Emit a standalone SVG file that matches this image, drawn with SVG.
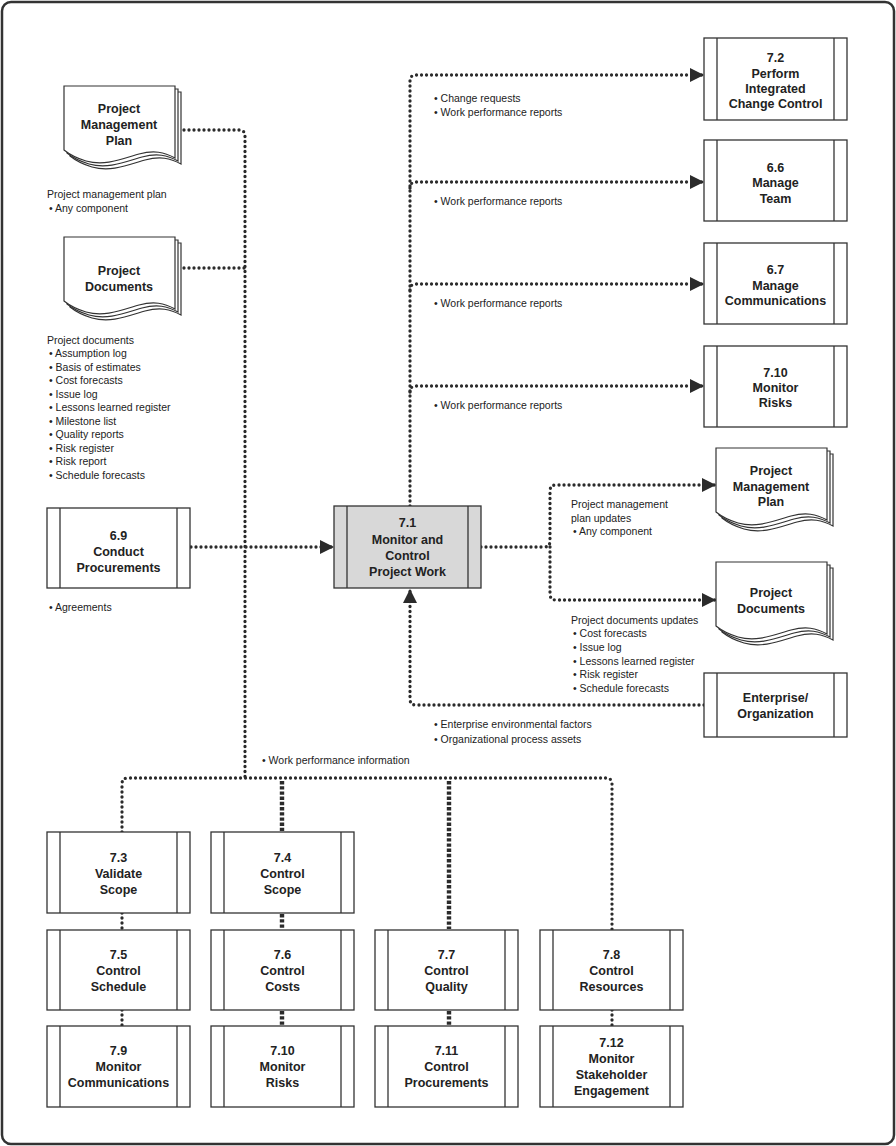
<svg xmlns="http://www.w3.org/2000/svg" xmlns:xlink="http://www.w3.org/1999/xlink" width="896" height="1146" viewBox="0 0 896 1146">
<style>
.frame{fill:#fff;stroke:#333;stroke-width:2.5}
.box{fill:#fff;stroke:#333;stroke-width:1.3}
.hub{fill:#d8d8d8;stroke:#333;stroke-width:1.3}
.bar{stroke:#333;stroke-width:1.3}
.page{fill:#fff;stroke:#333;stroke-width:1.2}
.dot{fill:none;stroke:#2b2b2b;stroke-width:3.3;stroke-linecap:round;stroke-dasharray:0 5}
.dotb{fill:none;stroke:#2b2b2b;stroke-width:4.4;stroke-linecap:butt;stroke-dasharray:3.4 1.8}
.t{font-family:"Liberation Sans",Arial,sans-serif;font-size:12.5px;font-weight:bold;fill:#222;text-anchor:middle}
.s{font-family:"Liberation Sans",Arial,sans-serif;font-size:10.5px;fill:#222}
</style>
<defs>
<marker id="ah" markerUnits="userSpaceOnUse" markerWidth="15" markerHeight="14" refX="14" refY="7" orient="auto">
<path d="M0,0 L14,7 L0,14 Z" fill="#2b2b2b"/>
</marker>
<g id="doc">
<path class="page" transform="translate(6,6)" d="M0,0 H111 V72 C100,66 90,64 75,68 C55,74 40,80 22,75 C12,72 5,68 0,64 Z"/>
<path class="page" transform="translate(3,3)" d="M0,0 H111 V72 C100,66 90,64 75,68 C55,74 40,80 22,75 C12,72 5,68 0,64 Z"/>
<path class="page" d="M0,0 H111 V72 C100,66 90,64 75,68 C55,74 40,80 22,75 C12,72 5,68 0,64 Z"/>
</g>
</defs>
<rect class="frame" x="2" y="2" width="892" height="1142" rx="9"/>

<g id="connectors">
<path class="dot" d="M184,130 H239 Q245,130 245,136 V778"/>
<path class="dot" d="M184,268 H245"/>
<path class="dot" d="M191,547 H334" marker-end="url(#ah)"/>
<path class="dot" d="M122,832 V784 Q122,778 128,778 H606 Q612,778 612,784 V930"/>
<path class="dotb" d="M282,781 V831"/>
<path class="dotb" d="M449,781 V929"/>
<path class="dot" d="M122,913 V930"/>
<path class="dot" d="M122,1010 V1026"/>
<path class="dotb" d="M282,914 V929"/>
<path class="dotb" d="M282,1011 V1025"/>
<path class="dotb" d="M449,1011 V1025"/>
<path class="dot" d="M612,1010 V1026"/>
<path class="dot" d="M410,506 V81 Q410,75 416,75 H704" marker-end="url(#ah)"/>
<path class="dot" d="M410,188 Q410,182 416,182 H704" marker-end="url(#ah)"/>
<path class="dot" d="M410,290 Q410,284 416,284 H704" marker-end="url(#ah)"/>
<path class="dot" d="M410,392 Q410,386 416,386 H704" marker-end="url(#ah)"/>
<path class="dot" d="M481,547 H544 Q550,547 550,541 V491 Q550,485 556,485 H716" marker-end="url(#ah)"/>
<path class="dot" d="M550,547 V594 Q550,600 556,600 H716" marker-end="url(#ah)"/>
<path class="dot" d="M704,705 H416 Q410,705 410,699 V589" marker-end="url(#ah)"/>
</g>

<g id="pmp-in">
<use xlink:href="#doc" x="64" y="86"/>
<text class="t" x="119" y="112.5">Project</text>
<text class="t" x="119" y="128.5">Management</text>
<text class="t" x="119" y="144.5">Plan</text>
<text class="s" x="47" y="197.5">Project management plan</text>
<text class="s" x="49" y="211.5">• Any component</text>
</g>

<g id="pd-in">
<use xlink:href="#doc" x="64" y="237"/>
<text class="t" x="119" y="274.5">Project</text>
<text class="t" x="119" y="290.5">Documents</text>
<text class="s" x="47" y="343.5">Project documents</text>
<text class="s" x="49" y="356.5">• Assumption log</text>
<text class="s" x="49" y="370.5">• Basis of estimates</text>
<text class="s" x="49" y="383.5">• Cost forecasts</text>
<text class="s" x="49" y="397.5">• Issue log</text>
<text class="s" x="49" y="410.5">• Lessons learned register</text>
<text class="s" x="49" y="424.5">• Milestone list</text>
<text class="s" x="49" y="437.5">• Quality reports</text>
<text class="s" x="49" y="451.5">• Risk register</text>
<text class="s" x="49" y="464.5">• Risk report</text>
<text class="s" x="49" y="478.5">• Schedule forecasts</text>
</g>

<g id="n69">
<rect class="box" x="47" y="508" width="143" height="80"/>
<line class="bar" x1="60" y1="508" x2="60" y2="588"/>
<line class="bar" x1="177" y1="508" x2="177" y2="588"/>
<text class="t" x="118.5" y="539.5">6.9</text>
<text class="t" x="118.5" y="555.5">Conduct</text>
<text class="t" x="118.5" y="571.5">Procurements</text>
<text class="s" x="49" y="610.5">• Agreements</text>
</g>

<g id="n71">
<rect class="hub" x="334" y="506" width="147" height="82"/>
<line class="bar" x1="347" y1="506" x2="347" y2="588"/>
<line class="bar" x1="468" y1="506" x2="468" y2="588"/>
<text class="t" x="407.5" y="527">7.1</text>
<text class="t" x="407.5" y="543.5">Monitor and</text>
<text class="t" x="407.5" y="560">Control</text>
<text class="t" x="407.5" y="576">Project Work</text>
</g>

<g id="n72">
<rect class="box" x="704" y="38" width="143" height="82"/>
<line class="bar" x1="717" y1="38" x2="717" y2="120"/>
<line class="bar" x1="834" y1="38" x2="834" y2="120"/>
<text class="t" x="775.5" y="61.5">7.2</text>
<text class="t" x="775.5" y="77.5">Perform</text>
<text class="t" x="775.5" y="92.5">Integrated</text>
<text class="t" x="775.5" y="107.5">Change Control</text>
<text class="s" x="434" y="101.5">• Change requests</text>
<text class="s" x="434" y="115.5">• Work performance reports</text>
</g>

<g id="n66">
<rect class="box" x="704" y="140" width="143" height="81"/>
<line class="bar" x1="717" y1="140" x2="717" y2="221"/>
<line class="bar" x1="834" y1="140" x2="834" y2="221"/>
<text class="t" x="775.5" y="171.5">6.6</text>
<text class="t" x="775.5" y="186.5">Manage</text>
<text class="t" x="775.5" y="202.5">Team</text>
<text class="s" x="434" y="204.5">• Work performance reports</text>
</g>

<g id="n67">
<rect class="box" x="704" y="243" width="143" height="81"/>
<line class="bar" x1="717" y1="243" x2="717" y2="324"/>
<line class="bar" x1="834" y1="243" x2="834" y2="324"/>
<text class="t" x="775.5" y="273.5">6.7</text>
<text class="t" x="775.5" y="289.5">Manage</text>
<text class="t" x="775.5" y="304.5">Communications</text>
<text class="s" x="434" y="306.5">• Work performance reports</text>
</g>

<g id="n710a">
<rect class="box" x="704" y="346" width="143" height="81"/>
<line class="bar" x1="717" y1="346" x2="717" y2="427"/>
<line class="bar" x1="834" y1="346" x2="834" y2="427"/>
<text class="t" x="775.5" y="376.5">7.10</text>
<text class="t" x="775.5" y="391.5">Monitor</text>
<text class="t" x="775.5" y="406.5">Risks</text>
<text class="s" x="434" y="408.5">• Work performance reports</text>
</g>

<g id="pmp-out">
<use xlink:href="#doc" x="716" y="448"/>
<text class="t" x="771" y="474.5">Project</text>
<text class="t" x="771" y="490.5">Management</text>
<text class="t" x="771" y="505.5">Plan</text>
<text class="s" x="571" y="507.5">Project management</text>
<text class="s" x="571" y="521.5">plan updates</text>
<text class="s" x="573" y="534.5">• Any component</text>
</g>

<g id="pd-out">
<use xlink:href="#doc" x="716" y="562"/>
<text class="t" x="771" y="596.5">Project</text>
<text class="t" x="771" y="612.5">Documents</text>
<text class="s" x="571" y="623.5">Project documents updates</text>
<text class="s" x="573" y="636.5">• Cost forecasts</text>
<text class="s" x="573" y="650.5">• Issue log</text>
<text class="s" x="573" y="664.5">• Lessons learned register</text>
<text class="s" x="573" y="677.5">• Risk register</text>
<text class="s" x="573" y="691.5">• Schedule forecasts</text>
</g>

<g id="eeo">
<rect class="box" x="704" y="673" width="143" height="64"/>
<line class="bar" x1="717" y1="673" x2="717" y2="737"/>
<line class="bar" x1="834" y1="673" x2="834" y2="737"/>
<text class="t" x="775.5" y="701.5">Enterprise/</text>
<text class="t" x="775.5" y="717.5">Organization</text>
<text class="s" x="434" y="727.5">• Enterprise environmental factors</text>
<text class="s" x="434" y="742.5">• Organizational process assets</text>
</g>

<g id="wpi">
<text class="s" x="262" y="763.5">• Work performance information</text>
</g>

<g id="n73">
<rect class="box" x="47" y="832" width="143" height="81"/>
<line class="bar" x1="60" y1="832" x2="60" y2="913"/>
<line class="bar" x1="177" y1="832" x2="177" y2="913"/>
<text class="t" x="118.5" y="861.5">7.3</text>
<text class="t" x="118.5" y="878">Validate</text>
<text class="t" x="118.5" y="894">Scope</text>
</g>
<g id="n74">
<rect class="box" x="211" y="832" width="143" height="81"/>
<line class="bar" x1="224" y1="832" x2="224" y2="913"/>
<line class="bar" x1="341" y1="832" x2="341" y2="913"/>
<text class="t" x="282.5" y="861.5">7.4</text>
<text class="t" x="282.5" y="878">Control</text>
<text class="t" x="282.5" y="894">Scope</text>
</g>

<g id="n75">
<rect class="box" x="47" y="930" width="143" height="80"/>
<line class="bar" x1="60" y1="930" x2="60" y2="1010"/>
<line class="bar" x1="177" y1="930" x2="177" y2="1010"/>
<text class="t" x="118.5" y="958.5">7.5</text>
<text class="t" x="118.5" y="974.5">Control</text>
<text class="t" x="118.5" y="990.5">Schedule</text>
</g>
<g id="n76">
<rect class="box" x="211" y="930" width="143" height="80"/>
<line class="bar" x1="224" y1="930" x2="224" y2="1010"/>
<line class="bar" x1="341" y1="930" x2="341" y2="1010"/>
<text class="t" x="282.5" y="958.5">7.6</text>
<text class="t" x="282.5" y="974.5">Control</text>
<text class="t" x="282.5" y="990.5">Costs</text>
</g>
<g id="n77">
<rect class="box" x="375" y="930" width="143" height="80"/>
<line class="bar" x1="388" y1="930" x2="388" y2="1010"/>
<line class="bar" x1="505" y1="930" x2="505" y2="1010"/>
<text class="t" x="446.5" y="958.5">7.7</text>
<text class="t" x="446.5" y="974.5">Control</text>
<text class="t" x="446.5" y="990.5">Quality</text>
</g>
<g id="n78">
<rect class="box" x="540" y="930" width="143" height="80"/>
<line class="bar" x1="553" y1="930" x2="553" y2="1010"/>
<line class="bar" x1="670" y1="930" x2="670" y2="1010"/>
<text class="t" x="611.5" y="958.5">7.8</text>
<text class="t" x="611.5" y="974.5">Control</text>
<text class="t" x="611.5" y="990.5">Resources</text>
</g>

<g id="n79">
<rect class="box" x="47" y="1026" width="143" height="81"/>
<line class="bar" x1="60" y1="1026" x2="60" y2="1107"/>
<line class="bar" x1="177" y1="1026" x2="177" y2="1107"/>
<text class="t" x="118.5" y="1054.5">7.9</text>
<text class="t" x="118.5" y="1071">Monitor</text>
<text class="t" x="118.5" y="1087">Communications</text>
</g>
<g id="n710b">
<rect class="box" x="211" y="1026" width="143" height="81"/>
<line class="bar" x1="224" y1="1026" x2="224" y2="1107"/>
<line class="bar" x1="341" y1="1026" x2="341" y2="1107"/>
<text class="t" x="282.5" y="1054.5">7.10</text>
<text class="t" x="282.5" y="1071">Monitor</text>
<text class="t" x="282.5" y="1087">Risks</text>
</g>
<g id="n711">
<rect class="box" x="375" y="1026" width="143" height="81"/>
<line class="bar" x1="388" y1="1026" x2="388" y2="1107"/>
<line class="bar" x1="505" y1="1026" x2="505" y2="1107"/>
<text class="t" x="446.5" y="1054.5">7.11</text>
<text class="t" x="446.5" y="1071">Control</text>
<text class="t" x="446.5" y="1087">Procurements</text>
</g>
<g id="n712">
<rect class="box" x="540" y="1026" width="143" height="81"/>
<line class="bar" x1="553" y1="1026" x2="553" y2="1107"/>
<line class="bar" x1="670" y1="1026" x2="670" y2="1107"/>
<text class="t" x="611.5" y="1046.5">7.12</text>
<text class="t" x="611.5" y="1062.5">Monitor</text>
<text class="t" x="611.5" y="1078.5">Stakeholder</text>
<text class="t" x="611.5" y="1094.5">Engagement</text>
</g>
</svg>
